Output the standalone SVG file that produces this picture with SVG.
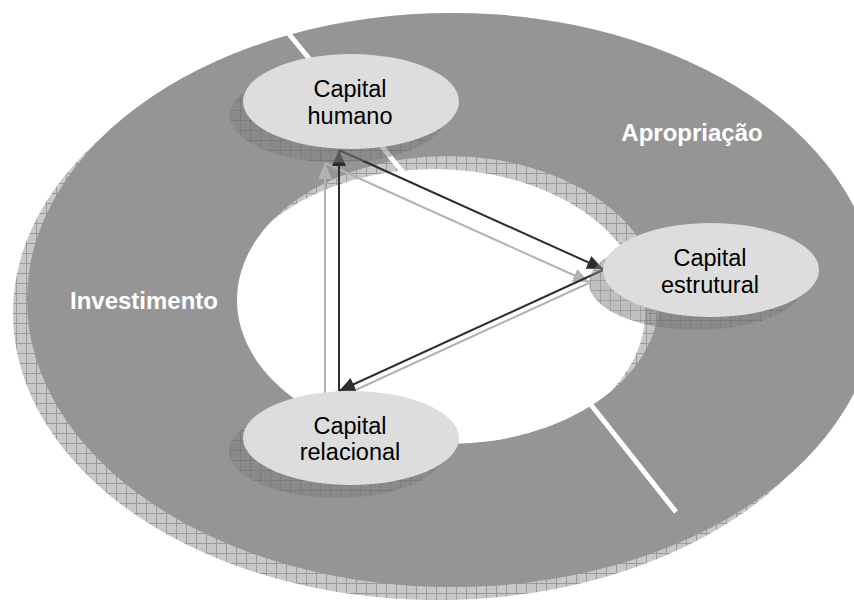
<svg xmlns="http://www.w3.org/2000/svg" width="854" height="600" viewBox="0 0 854 600">
  <defs>
    <!-- checkered shadow fill used under the ring -->
    <pattern id="ringHatch" width="10" height="10" patternUnits="userSpaceOnUse">
      <rect width="10" height="10" fill="#c8c8c8"/>
      <path d="M0,0.5H10M0.5,0V10" stroke="#9a9a9a" stroke-width="1"/>
    </pattern>
    <!-- translucent checkered shadow under the nodes -->
    <pattern id="nodeHatch" width="10" height="10" patternUnits="userSpaceOnUse">
      <rect width="10" height="10" fill="#808080" fill-opacity="0.5"/>
      <path d="M0,0.5H10M0.5,0V10" stroke="#5a5a5a" stroke-opacity="0.3" stroke-width="1"/>
    </pattern>
    <marker id="arrowDark" markerUnits="userSpaceOnUse" markerWidth="16" markerHeight="14" refX="16" refY="7" orient="auto">
      <path d="M0,0 L16,7 L0,14 Z" fill="#2e2e2e"/>
    </marker>
    <marker id="arrowLight" markerUnits="userSpaceOnUse" markerWidth="16" markerHeight="14" refX="16" refY="7" orient="auto">
      <path d="M0,0 L16,7 L0,14 Z" fill="#b2b2b2"/>
    </marker>
    <style>
      .ring { fill: #959595; fill-rule: evenodd; }
      .ringShadow { fill: url(#ringHatch); fill-rule: evenodd; }
      .divider { stroke: #ffffff; stroke-width: 5; fill: none; }
      .node { fill: #dddddd; }
      .nodeShadow { fill: url(#nodeHatch); }
      .label { font-family: "Liberation Sans", Arial, sans-serif; font-size: 23.5px; fill: #000000; text-anchor: middle; }
      .phase { font-family: "Liberation Sans", Arial, sans-serif; font-size: 24px; font-weight: bold; fill: #ffffff; text-anchor: middle; }
      .link { stroke: #2e2e2e; stroke-width: 2; fill: none; marker-end: url(#arrowDark); }
      .linkShadow { stroke: #b2b2b2; stroke-width: 2; fill: none; marker-end: url(#arrowLight); }
    </style>
  </defs>

  <rect width="854" height="600" fill="#ffffff"/>

  <!-- ring with its offset shadow -->
  <g id="ring">
    <path class="ringShadow" transform="translate(-14,13)" d="M27,300 A425,287 0 1,0 877,300 A425,287 0 1,0 27,300 Z M237,300 A211,144 0 1,0 659,300 A211,144 0 1,0 237,300 Z"/>
    <path class="ring" d="M27,300 A425,287 0 1,0 877,300 A425,287 0 1,0 27,300 Z M237,300 A211,144 0 1,0 659,300 A211,144 0 1,0 237,300 Z"/>
    <line class="divider" x1="284" y1="28" x2="406" y2="176"/>
    <line class="divider" x1="588" y1="401" x2="676" y2="512"/>
    <text class="phase" x="692" y="141">Apropriação</text>
    <text class="phase" x="144" y="309">Investimento</text>
  </g>

  <!-- connectors -->
  <g id="connectors">
    <line class="linkShadow" x1="325" y1="163" x2="589" y2="282"/>
    <line class="linkShadow" x1="589" y1="283" x2="325" y2="404"/>
    <line class="linkShadow" x1="325" y1="404" x2="325" y2="163"/>
    <line class="link" x1="339" y1="150" x2="603" y2="269"/>
    <line class="link" x1="603" y1="270" x2="339" y2="391"/>
    <line class="link" x1="339" y1="391" x2="339" y2="150"/>
  </g>

  <g id="capital-humano">
    <ellipse class="nodeShadow" cx="338" cy="115" rx="108" ry="47.5"/>
    <ellipse class="node" cx="351" cy="101.5" rx="108" ry="47.5"/>
    <text class="label" x="350" y="97">Capital</text>
    <text class="label" x="350" y="124">humano</text>
  </g>

  <g id="capital-estrutural">
    <ellipse class="nodeShadow" cx="697" cy="283" rx="108" ry="47"/>
    <ellipse class="node" cx="711" cy="270" rx="108" ry="47"/>
    <text class="label" x="710" y="266">Capital</text>
    <text class="label" x="710" y="293">estrutural</text>
  </g>

  <g id="capital-relacional">
    <ellipse class="nodeShadow" cx="337" cy="451" rx="108" ry="47"/>
    <ellipse class="node" cx="351" cy="438" rx="108" ry="47"/>
    <text class="label" x="350" y="434">Capital</text>
    <text class="label" x="350" y="460">relacional</text>
  </g>
</svg>
